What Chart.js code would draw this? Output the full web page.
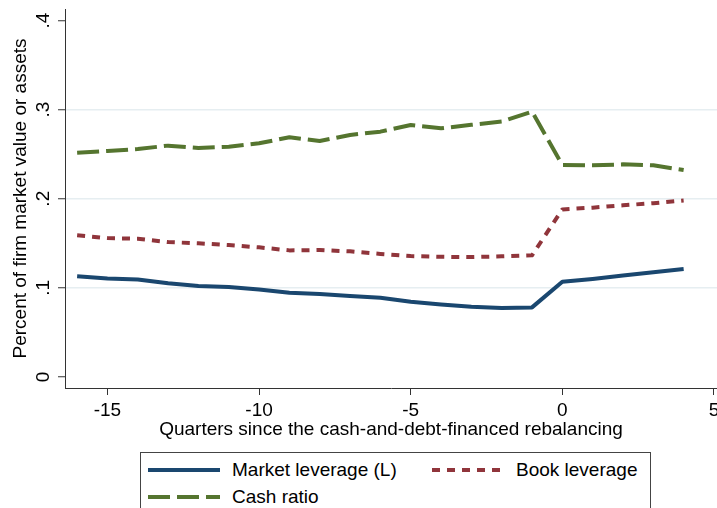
<!DOCTYPE html>
<html lang="en">
<head>
    <meta charset="UTF-8">
    <title>Leverage and cash around rebalancing</title>
    <script src="https://cdn.jsdelivr.net/npm/chart.js"></script>
    <style>
        body {
            margin: 0;
            background: #fff;
            font-family: "Liberation Sans", Arial, sans-serif;
        }
        #wrap {
            position: relative;
            width: 717px;
            height: 508px;
            overflow: hidden;
        }
        #chartBox {
            position: absolute;
            left: 0;
            top: 0;
            width: 717px;
            height: 450px;
        }
        #legend {
            position: absolute;
            left: 140px;
            top: 452px;
            width: 511px;
            height: 80px;
            border: 1px solid #444;
            box-sizing: border-box;
        }
        .item {
            position: absolute;
            display: flex;
            align-items: center;
            font-size: 19px;
            color: #000;
            white-space: nowrap;
        }
        .item svg {
            margin-right: 12px;
        }
    </style>
</head>
<body>
    <div id="wrap">
        <div id="chartBox"><canvas id="levChart"></canvas></div>
        <div id="legend">
            <div class="item" style="left:7px; top:6px;">
                <svg width="72" height="6"><line x1="0" y1="3" x2="72" y2="3" stroke="#1a476f" stroke-width="4"/></svg>
                Market leverage (L)
            </div>
            <div class="item" style="left:291px; top:6px;">
                <svg width="72" height="6"><line x1="0" y1="3" x2="72" y2="3" stroke="#90353b" stroke-width="4" stroke-dasharray="8 7"/></svg>
                Book leverage
            </div>
            <div class="item" style="left:7px; top:33px;">
                <svg width="72" height="6"><line x1="0" y1="3" x2="72" y2="3" stroke="#55752f" stroke-width="4" stroke-dasharray="22 7"/></svg>
                Cash ratio
            </div>
        </div>
    </div>

    <script>
        // quarters relative to the rebalancing event
        const quarters = [-16, -15, -14, -13, -12, -11, -10, -9, -8, -7, -6, -5, -4, -3, -2, -1, 0, 1, 2, 3, 4];
        const marketLev = [0.113, 0.1105, 0.1094, 0.105, 0.102, 0.101, 0.098, 0.0944, 0.093, 0.0907, 0.0888,
                           0.0843, 0.0813, 0.0787, 0.0772, 0.078, 0.1068, 0.110, 0.1137, 0.1175, 0.121];
        const bookLev = [0.1589, 0.1558, 0.155, 0.1513, 0.150, 0.148, 0.1454, 0.142, 0.1424, 0.1409, 0.138,
                         0.1356, 0.1348, 0.1345, 0.1353, 0.1364, 0.188, 0.190, 0.1926, 0.195, 0.198];
        const cashRatio = [0.2517, 0.2536, 0.2558, 0.2596, 0.257, 0.2584, 0.2622, 0.269, 0.2648, 0.2716, 0.2753,
                           0.2828, 0.279, 0.283, 0.2866, 0.2978, 0.2379, 0.2375, 0.2386, 0.2375, 0.2322];
        const xTicks = [-15, -10, -5, 0, 5];
        const yTicks = [0, 0.1, 0.2, 0.3, 0.4];

        const toPoints = vals => quarters.map((q, i) => ({ x: q, y: vals[i] }));
        const fontFam = '"Liberation Sans", Arial, sans-serif';

        function noPad(s) {
            s.paddingLeft = 0;
            s.paddingRight = 0;
            s.paddingTop = 0;
            s.paddingBottom = 0;
        }

        const ctx = document.getElementById('levChart').getContext('2d');
        new Chart(ctx, {
            type: 'line',
            data: {
                datasets: [
                    {
                        label: 'Market leverage (L)',
                        data: toPoints(marketLev),
                        borderColor: '#1a476f',
                        borderWidth: 4
                    },
                    {
                        label: 'Book leverage',
                        data: toPoints(bookLev),
                        borderColor: '#90353b',
                        borderWidth: 4,
                        borderDash: [8, 7]
                    },
                    {
                        label: 'Cash ratio',
                        data: toPoints(cashRatio),
                        borderColor: '#55752f',
                        borderWidth: 4,
                        borderDash: [22, 7]
                    }
                ]
            },
            options: {
                responsive: true,
                maintainAspectRatio: false,
                animation: false,
                elements: {
                    point: { radius: 0 },
                    line: { tension: 0, borderCapStyle: 'butt', borderJoinStyle: 'round' }
                },
                layout: {
                    autoPadding: false,
                    padding: { top: 9, right: 0, left: 0, bottom: 0 }
                },
                plugins: {
                    legend: { display: false },
                    tooltip: { enabled: false }
                },
                scales: {
                    x: {
                        type: 'linear',
                        min: -16.4,
                        max: 5.1,
                        afterBuildTicks: s => { s.ticks = xTicks.map(v => ({ value: v })); },
                        afterFit: s => { s.height = 62; noPad(s); },
                        grid: { display: true, drawOnChartArea: false, tickLength: 7, tickColor: '#333', tickWidth: 1 },
                        border: { display: true, color: '#333', width: 1 },
                        ticks: {
                            padding: 4,
                            maxRotation: 0,
                            color: '#000',
                            font: { family: fontFam, size: 19 },
                            callback: v => String(v)
                        },
                        title: {
                            display: true,
                            text: 'Quarters since the cash-and-debt-financed rebalancing',
                            color: '#000',
                            font: { family: fontFam, size: 19 },
                            padding: { top: 0, bottom: 9 }
                        }
                    },
                    y: {
                        min: -0.0125,
                        max: 0.413,
                        afterBuildTicks: s => { s.ticks = yTicks.map(v => ({ value: v })); },
                        afterFit: s => { s.width = 65; noPad(s); },
                        grid: {
                            tickLength: 7,
                            tickColor: '#333',
                            tickWidth: 1,
                            lineWidth: 1.5,
                            color: c => (c.tick && c.tick.value > 0.05 && c.tick.value < 0.35) ? '#e6eef1' : 'rgba(0,0,0,0)'
                        },
                        border: { display: true, color: '#333', width: 1 },
                        ticks: {
                            padding: 6,
                            minRotation: 90,
                            maxRotation: 90,
                            crossAlign: 'center',
                            color: '#000',
                            font: { family: fontFam, size: 19 },
                            callback: v => v === 0 ? '0' : String(Math.round(v * 10) / 10).replace(/^0/, '')
                        },
                        title: {
                            display: true,
                            text: 'Percent of firm market value or assets',
                            color: '#000',
                            font: { family: fontFam, size: 19 },
                            padding: { top: 9, bottom: 0 }
                        }
                    }
                }
            }
        });
    </script>
</body>
</html>
